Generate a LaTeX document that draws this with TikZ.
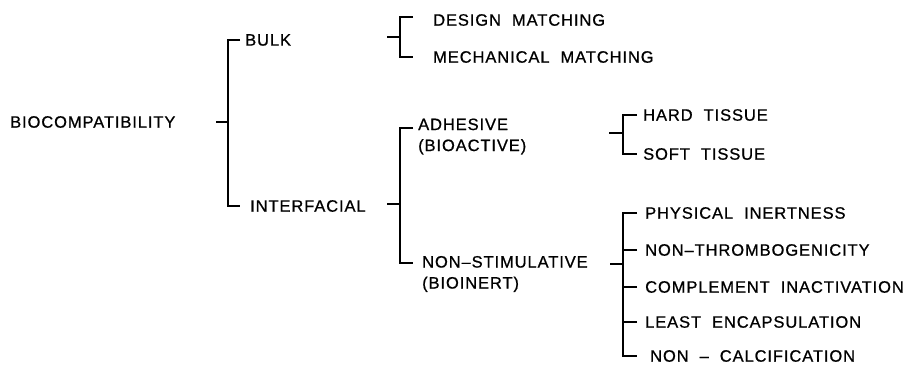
\documentclass[tikz,border=0pt]{standalone}
\usepackage{fontspec}
\newfontfamily\lblfont[LetterSpace=5.5,FakeBold=0.8]{Liberation Sans}
\begin{document}
\begin{tikzpicture}[x=1pt,y=-1pt,
  lbl/.style={font=\lblfont\fontsize{16.5}{21}\selectfont, inner sep=2pt, anchor=west, align=left},
  brk/.style={line width=1.7pt}]
  \useasboundingbox (0,0) rectangle (911,368);
  % first level
  \node[lbl] (bio) at (8,122) {BIOCOMPATIBILITY};
  \node[lbl] (bulk) at (243,40) {BULK};
  \node[lbl] (interf) at (248,206) {INTERFACIAL};
  \coordinate (s1) at (228,122);
  \draw[brk] ([xshift=-3pt]bulk.west) -| (s1) |- ([xshift=-8pt]interf.west);
  \draw[brk] (s1) -- ++(-12,0);
  % bulk
  \node[lbl] (des) at (431,20) {DESIGN\ \ MATCHING};
  \node[lbl] (mech) at (431,57) {MECHANICAL\ \ MATCHING};
  \coordinate (s2) at (400,37);
  \draw[brk] ([xshift=-18pt,yshift=3pt]des.west) -| (s2) |- ([xshift=-18pt]mech.west);
  \draw[brk] (s2) -- ++(-13,0);
  % interfacial
  \node[lbl] (adh) at (416,136.5) {ADHESIVE\\(BIOACTIVE)};
  \node[lbl] (nons) at (420,274) {NON–STIMULATIVE\\(BIOINERT)};
  \coordinate (s3) at (400,204);
  \draw[brk] ([xshift=-3pt,yshift=8.5pt]adh.west) -| (s3) |- ([xshift=-7pt,yshift=11pt]nons.west);
  \draw[brk] (s3) -- ++(-13,0);
  % adhesive
  \node[lbl] (hard) at (641,115) {HARD\ \ TISSUE};
  \node[lbl] (soft) at (641,154) {SOFT\ \ TISSUE};
  \coordinate (s4) at (623,133);
  \draw[brk] ([xshift=-4pt]hard.west) -| (s4) |- ([xshift=-4pt]soft.west);
  \draw[brk] (s4) -- ++(-14,0);
  % non-stimulative
  \node[lbl] (phys) at (643,213) {PHYSICAL\ \ INERTNESS};
  \node[lbl] (nthr) at (643,250) {NON–THROMBOGENICITY};
  \node[lbl] (comp) at (643,287) {COMPLEMENT\ \ INACTIVATION};
  \node[lbl] (least) at (643,322) {LEAST\ \ ENCAPSULATION};
  \node[lbl] (ncal) at (648,356) {NON\ \ –\ \ CALCIFICATION};
  \coordinate (s5) at (623,264);
  \draw[brk] ([xshift=-6pt]phys.west) -| (s5) |- ([xshift=-11pt]ncal.west);
  \foreach \n in {nthr,comp,least}
    \draw[brk] ([xshift=-6pt]\n.west) -- (s5 |- \n.west);
  \draw[brk] (s5) -- ++(-13,0);
\end{tikzpicture}
\end{document}
